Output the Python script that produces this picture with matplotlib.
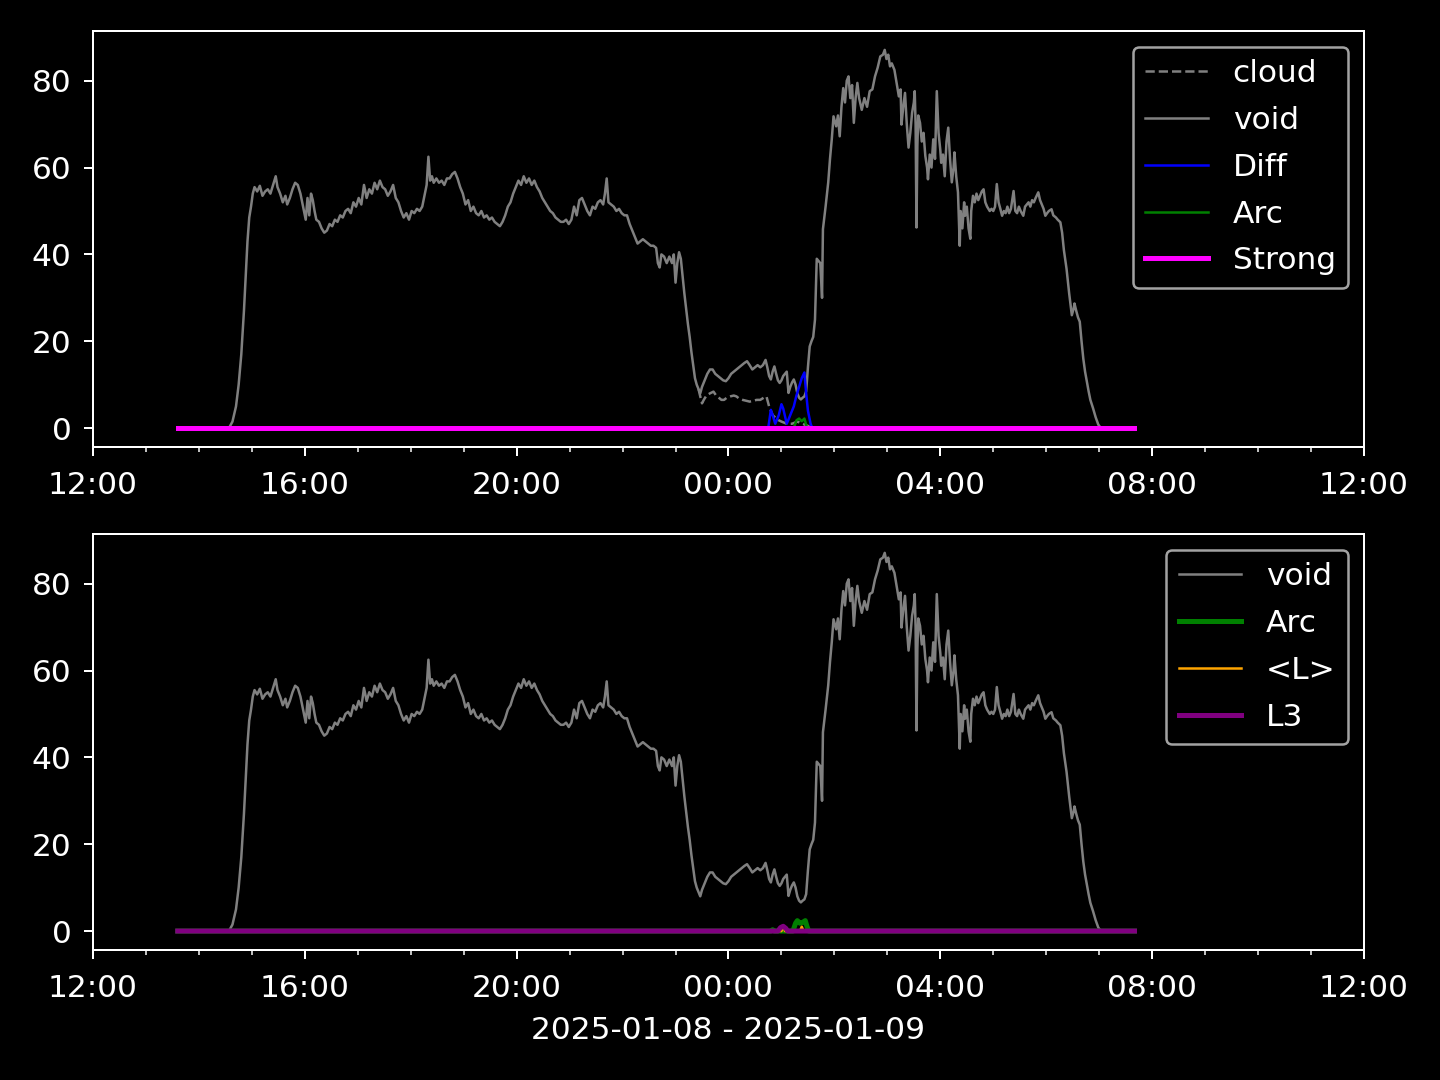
import numpy as np
import matplotlib
matplotlib.use("Agg")
import matplotlib.pyplot as plt
import matplotlib.dates as mdates
import datetime as dt

plt.style.use("dark_background")
plt.rcParams["font.size"] = 12.5
plt.rcParams["xtick.major.pad"] = 6
plt.rcParams["ytick.major.pad"] = 5
plt.rcParams["legend.labelspacing"] = 0.57

base = dt.datetime(2025, 1, 8, 12, 0)

# minutes after 2025-01-08 12:00 and readings
void_min = [96, 154, 158, 162, 165, 168, 171, 173, 175, 177,
            179, 181, 183, 186, 189, 192, 195, 198, 201, 204,
            207, 209, 212, 215, 218, 220, 223, 226, 229, 232,
            235, 238, 241, 243, 245, 247, 249, 251, 253, 256,
            259, 262, 265, 268, 271, 274, 277, 280, 283, 286,
            289, 292, 295, 298, 301, 304, 307, 310, 313, 316,
            319, 322, 325, 328, 331, 334, 337, 340, 343, 346,
            349, 352, 355, 358, 361, 364, 367, 370, 373, 376,
            378, 380, 382, 384, 386, 389, 392, 395, 398, 401,
            404, 407, 410, 413, 416, 419, 422, 425, 428, 431,
            434, 437, 440, 443, 446, 449, 452, 455, 458, 461,
            464, 467, 470, 473, 476, 479, 482, 485, 488, 491,
            494, 497, 500, 503, 506, 509, 512, 515, 518, 521,
            524, 527, 530, 533, 536, 539, 542, 545, 548, 551,
            554, 557, 560, 563, 566, 569, 572, 575, 578, 580,
            582, 584, 587, 590, 593, 596, 599, 602, 605, 608,
            611, 614, 617, 620, 623, 626, 629, 632, 635, 638,
            640, 642, 644, 647, 650, 653, 656, 658, 660, 662,
            664, 666, 668, 670, 672, 674, 676, 678, 680, 682,
            684, 686, 688, 690, 693, 696, 699, 702, 705, 708,
            711, 714, 717, 720, 723, 726, 729, 732, 735, 738,
            741, 744, 747, 750, 753, 756, 759, 762, 764, 766,
            768, 770, 772, 774, 776, 778, 780, 782, 784, 786,
            788, 790, 792, 794, 796, 798, 800, 802, 804, 806,
            808, 810, 812, 814, 816, 818, 820, 822, 824, 826,
            827, 830, 833, 835, 837, 839, 842, 844, 846, 848,
            850, 852, 854, 856, 858, 860, 862, 864, 866, 868,
            871, 874, 877, 880, 883, 886, 889, 892, 895, 897,
            899, 901, 903, 905, 908, 910, 913, 915, 916, 918,
            920, 922, 924, 926, 928, 930, 931, 932, 933, 934,
            935, 937, 939, 941, 943, 945, 946, 948, 950, 952,
            954, 955, 956, 958, 960, 961, 963, 965, 967, 969,
            971, 973, 975, 976, 978, 980, 981, 982, 983, 985,
            987, 988, 990, 992, 994, 995, 997, 999, 1001, 1003,
            1005, 1007, 1009, 1011, 1013, 1016, 1018, 1020, 1022, 1024,
            1026, 1028, 1030, 1032, 1034, 1036, 1038, 1040, 1043, 1045,
            1047, 1049, 1051, 1054, 1056, 1058, 1060, 1062, 1064, 1066,
            1068, 1071, 1073, 1075, 1077, 1079, 1081, 1083, 1086, 1088,
            1091, 1093, 1096, 1098, 1100, 1103, 1106, 1109, 1111, 1112,
            1114, 1116, 1118, 1120, 1122, 1124, 1126, 1128, 1130, 1133,
            1136, 1139, 1142, 1180]
void_val = [0, 0, 1.5, 5, 10, 17, 27, 35, 43, 48.5,
            51, 54, 55.5, 54.5, 55.8, 53.5, 54.5, 55, 54, 56,
            58, 55.5, 54, 52, 53.5, 51.5, 53, 55, 56.5, 56,
            54, 51, 48, 53, 49, 54, 52.5, 50, 48, 47.5,
            46, 45, 45.5, 47, 46.5, 48, 47.5, 49, 48.5, 50,
            50.5, 49.5, 52, 51, 53, 51.5, 56, 53, 55, 54,
            56.5, 55, 57, 55.5, 55, 53.5, 54.5, 56, 53, 52,
            50, 48.5, 49.5, 48, 50, 49.5, 50.5, 50, 51, 54,
            56, 62.5, 57, 58, 56.5, 57.5, 56.5, 57, 56, 57.5,
            57.5, 58.5, 59, 57.5, 55.5, 54, 51.5, 52.5, 50, 51,
            49.5, 49, 50, 48.5, 49, 48, 48.5, 47.5, 47, 46.5,
            47.5, 49, 51, 52, 54, 55.5, 57, 56, 58, 56.5,
            57.5, 56, 57, 55.5, 54.5, 53, 52, 51, 50, 49.5,
            48.5, 48, 47.5, 47.5, 48, 47, 48, 51, 49, 52.5,
            53, 51.5, 50, 49, 51, 50.5, 52, 52.5, 51.5, 54,
            57.5, 52, 51.5, 51, 50, 50.5, 49.5, 49, 49, 47,
            45.5, 44, 42.5, 43, 43.5, 43, 42.5, 42, 42, 41.5,
            38, 37, 40, 39.5, 38, 39.5, 38, 40, 33.5, 38,
            40.5, 39, 35, 31, 27.5, 24, 21, 17.5, 14.5, 11.5,
            10, 9, 8, 9.5, 11, 12.5, 13.5, 13.5, 12.5, 12,
            11.5, 11, 10.8, 11.5, 12.5, 13, 13.5, 14, 14.5, 15,
            15.4, 14.5, 13.5, 14, 14.5, 14, 14.5, 15.7, 14, 12,
            11.2, 13, 14.2, 12.5, 11, 10.4, 11, 12, 12.5, 13,
            8.1, 9.5, 10.5, 11.2, 10, 8, 7, 6.6, 7, 7.3,
            8.5, 14, 18.8, 20, 21, 25, 39, 38.5, 38, 30,
            45.8, 51, 56.6, 62, 66.5, 71.8, 69.5, 72, 67.2, 74,
            78.3, 75, 80, 81, 76, 79, 70.3, 76, 79.5, 76,
            73.3, 76, 74, 77.6, 78, 81, 83, 85.6, 86, 87.1,
            85, 86, 83.3, 84, 82.5, 80, 76.4, 78, 69.9, 74,
            77.2, 70, 64.6, 68, 72.6, 75, 77.6, 70, 46.2, 65,
            72, 70.3, 66, 68, 62.7, 60, 57.3, 63, 60, 66.5,
            62, 70, 77.6, 68, 64, 61.1, 63, 58, 66, 69.2,
            62, 56.6, 60, 63.5, 58, 54.3, 48, 42, 50, 46,
            52, 48.9, 51, 46, 43.6, 50, 53.5, 52, 54, 52.5,
            53.5, 54.5, 55, 52, 51, 50, 50.5, 50, 51, 56.2,
            52, 50.5, 48.9, 50, 49.5, 51, 49.5, 50.5, 54.6, 50,
            49.5, 51, 50, 48.9, 51, 51.5, 52, 51, 52.5, 52,
            53, 54.3, 52.5, 51.5, 50.5, 48.9, 49.5, 50, 50.4, 49,
            48.5, 48, 47.4, 45, 41, 36.7, 31, 26, 27.5, 28.7,
            27, 25.5, 24.5, 20, 16, 13, 10.7, 8.5, 6.5, 4.6,
            2.5, 0.8, 0, 0]

cloud_min = [686, 688, 690, 692, 695, 699, 703, 706, 709, 712,
             715, 718, 722, 726, 729, 732, 736, 740, 744, 748,
             752, 756, 760, 763, 766, 770, 775, 780, 786, 792,
             798, 804, 810, 814]
cloud_val = [9, 7.3, 5.7, 6.5, 7.5, 8, 8.4, 7.5, 7, 6.5,
             6.5, 7, 7.3, 7.5, 7.3, 6.8, 6.5, 6.3, 6.1, 6.3,
             6.5, 6.5, 7, 7.3, 5, 3, 2, 1.5, 1, 1,
             1.5, 1, 0.5, 0]

diff_min = [96, 765, 768, 770, 773, 777, 780, 782, 786, 790,
            794, 797, 800, 803, 806, 808, 810, 813, 815, 1180]
diff_val = [0, 0, 4.2, 3, 1, 3, 5.5, 4.5, 1, 3,
            5, 7.5, 9.5, 11.5, 12.8, 8, 4, 1, 0, 0]

arc_top_min = [96, 794, 797, 800, 803, 806, 809, 1180]
arc_top_val = [0, 0, 1.8, 2.2, 1.6, 2.2, 0, 0]

arc_min = [96, 768, 770, 772, 793, 796, 798, 801, 804, 807, 809, 811, 1180]
arc_val = [0, 0, 0.3, 0, 0, 1.8, 2.4, 1.8, 2, 2.4, 1, 0, 0]

mean_l_min = [96, 780, 782, 784, 801, 803, 805, 1180]
mean_l_val = [0, 0, 1.2, 0, 0, 1.0, 0, 0]

l3_min = [96, 776, 779, 782, 785, 787, 1180]
l3_val = [0, 0, 0.8, 1.1, 0.6, 0, 0]

strong_min = [96, 1180]
strong_val = [0, 0]


def to_time(mins):
    return [base + dt.timedelta(minutes=m) for m in mins]


fig, ax = plt.subplots(nrows=2, ncols=1, figsize=(8, 6), dpi=180)
fig.subplots_adjust(left=0.0646, right=0.9472, top=0.9713, bottom=0.1204, hspace=0.209)

ax[0].plot(to_time(cloud_min), cloud_val, color="gray", ls="--", lw=1, label="cloud")
ax[0].plot(to_time(void_min), void_val, color="gray", lw=1, label="void")
ax[0].plot(to_time(diff_min), diff_val, color="blue", lw=1, label="Diff")
ax[0].plot(to_time(arc_top_min), arc_top_val, color="green", lw=1, label="Arc")
ax[0].plot(to_time(strong_min), strong_val, color="magenta", lw=2, label="Strong")

ax[1].plot(to_time(void_min), void_val, color="gray", lw=1, label="void")
ax[1].plot(to_time(arc_min), arc_val, color="green", lw=2, label="Arc")
ax[1].plot(to_time(mean_l_min), mean_l_val, color="orange", lw=1, label="<L>")
ax[1].plot(to_time(l3_min), l3_val, color="purple", lw=2, label="L3")

for a in ax:
    a.set_xlim(base, base + dt.timedelta(hours=24))
    a.xaxis.set_major_locator(mdates.HourLocator(byhour=[0, 4, 8, 12, 16, 20]))
    a.xaxis.set_minor_locator(mdates.HourLocator())
    a.xaxis.set_major_formatter(mdates.DateFormatter("%H:%M"))
    a.legend(loc="upper right")

ax[1].set_xlabel("2025-01-08 - 2025-01-09", labelpad=5.5)

fig.savefig("out.png")
